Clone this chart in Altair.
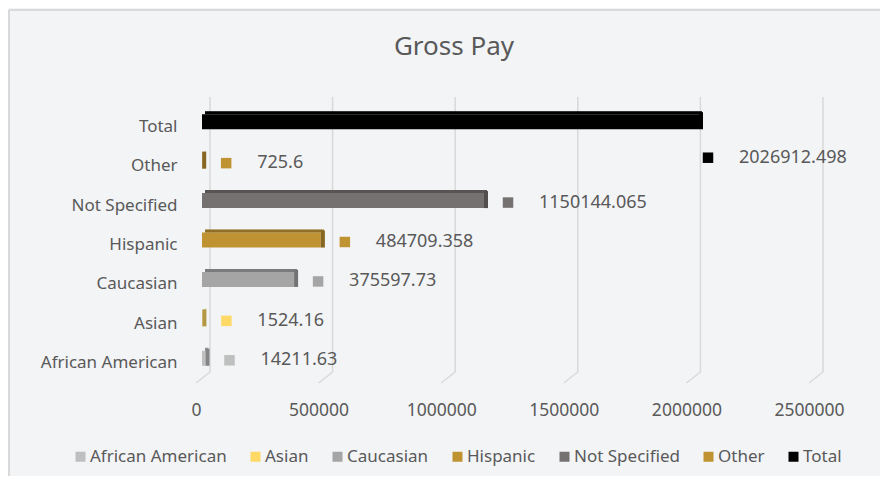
import altair as alt
import pandas as pd

categories = ["African American", "Asian", "Caucasian", "Hispanic", "Not Specified", "Other", "Total"]
values = [14211.63, 1524.16, 375597.73, 484709.358, 1150144.065, 725.6, 2026912.498]
value_labels = ["14211.63", "1524.16", "375597.73", "484709.358", "1150144.065", "725.6", "2026912.498"]
colors = ["#bfbfbf", "#ffd966", "#a5a5a5", "#c09332", "#767171", "#c09332", "#000000"]
x_ticks = [0, 500000, 1000000, 1500000, 2000000, 2500000]
row_order = categories[::-1]
chart_title = "Gross Pay"

df = pd.DataFrame({"category": categories, "value": values, "label": value_labels})
ticks_df = pd.DataFrame({"tick": x_ticks})

FONT = "Noto Sans"
TXT = "#595959"
BG = "#f3f4f6"
GRID = "#d9d9d9"

cscale = alt.Scale(domain=categories, range=colors)
color = alt.Color(
    "category:N", scale=cscale,
    legend=alt.Legend(
        orient="none", legendX=-130, legendY=341, direction="horizontal", title=None,
        symbolType="square", symbolSize=100, symbolStrokeWidth=0, labelFont=FONT,
        labelFontSize=17, labelColor=TXT, labelOffset=1, columnPadding=20, padding=0,
    ),
)
color_nl = alt.Color("category:N", scale=cscale, legend=None)

xscale = alt.Scale(domain=[0, 2500000], nice=False, zero=True)
x = alt.X(
    "value:Q", scale=xscale,
    axis=alt.Axis(
        values=x_ticks, title=None, grid=False,
        domain=False, ticks=False, tickSize=0, labelPadding=18, labelOffset=-6,
        labelFont=FONT, labelFontSize=17.5, labelColor=TXT, format="d", labelFlush=False,
    ),
)
y = alt.Y(
    "category:N", sort=row_order,
    scale=alt.Scale(paddingInner=0, paddingOuter=0),
    axis=alt.Axis(
        title=None, domain=False, ticks=False, grid=False, labelPadding=25,
        labelFont=FONT, labelFontSize=17, labelColor=TXT,
    ),
)

# gridlines (back wall + floor slant)
grid_v = alt.Chart(ticks_df).mark_rule(color=GRID, strokeWidth=1.5, xOffset=8).encode(
    x=alt.X("tick:Q", scale=xscale), y=alt.value(-10), y2=alt.value(265))
grid_s = alt.Chart(ticks_df).mark_rule(color=GRID, strokeWidth=1.5, xOffset=8, x2Offset=-6).encode(
    x=alt.X("tick:Q", scale=xscale), x2="tick:Q", y=alt.value(265), y2=alt.value(276))

base = alt.Chart(df)

bars = base.mark_bar(size=15, yOffset=-5).encode(x=x, y=y, color=color)
top_face = base.mark_bar(size=3, yOffset=-14, xOffset=3).encode(x=x, y=y, color=color_nl)
top_shade = base.mark_bar(size=3, yOffset=-14, xOffset=3, color="black", opacity=0.25).encode(x=x, y=y)
end_cap = base.mark_bar(size=17, yOffset=-6, x2Offset=4).encode(
    x=x, x2="value:Q", y=y, color=color_nl)
end_shade = base.mark_bar(size=17, yOffset=-6, x2Offset=4, color="black", opacity=0.3).encode(
    x=x, x2="value:Q", y=y)

nontotal = base.transform_filter(alt.datum.category != "Total")
total = base.transform_filter(alt.datum.category == "Total")

sq = nontotal.mark_square(size=110, opacity=1, filled=True, xOffset=24, yOffset=-3).encode(
    x=x, y=y, color=color_nl)
txt = nontotal.mark_text(align="left", baseline="middle", dx=55, dy=-3, font=FONT,
                         fontSize=18, color=TXT).encode(x=x, y=y, text="label:N")
sq_t = total.mark_square(size=110, opacity=1, filled=True, xOffset=9, yOffset=31).encode(
    x=x, y=y, color=color_nl)
txt_t = total.mark_text(align="left", baseline="middle", dx=40, dy=31, font=FONT,
                        fontSize=18, color=TXT).encode(x=x, y=y, text="label:N")

title_mark = alt.Chart(pd.DataFrame({"t": [chart_title]})).mark_text(
    font=FONT, fontSize=26, color=TXT, align="center", baseline="middle"
).encode(x=alt.value(252), y=alt.value(-60), text="t:N")

border_left = alt.Chart(df).mark_rule(color=GRID, strokeWidth=1.5).encode(
    x=alt.value(-193), y=alt.value(-97), y2=alt.value(380))
border_top = alt.Chart(df).mark_rule(color=GRID, strokeWidth=1.5).encode(
    x=alt.value(-193), x2=alt.value(700), y=alt.value(-97))

chart = alt.layer(
    border_left, border_top, grid_v, grid_s, title_mark, bars, top_face, top_shade,
    end_cap, end_shade, sq, txt, sq_t, txt_t
).properties(
    width=613, height=276,
    autosize=alt.AutoSizeParams(type="none"),
    padding={"left": 194, "top": 99, "right": 65, "bottom": 93},
    background=BG,
).configure_view(stroke=None)

chart.save("out.html", embed_options={"renderer": "svg", "actions": False})
